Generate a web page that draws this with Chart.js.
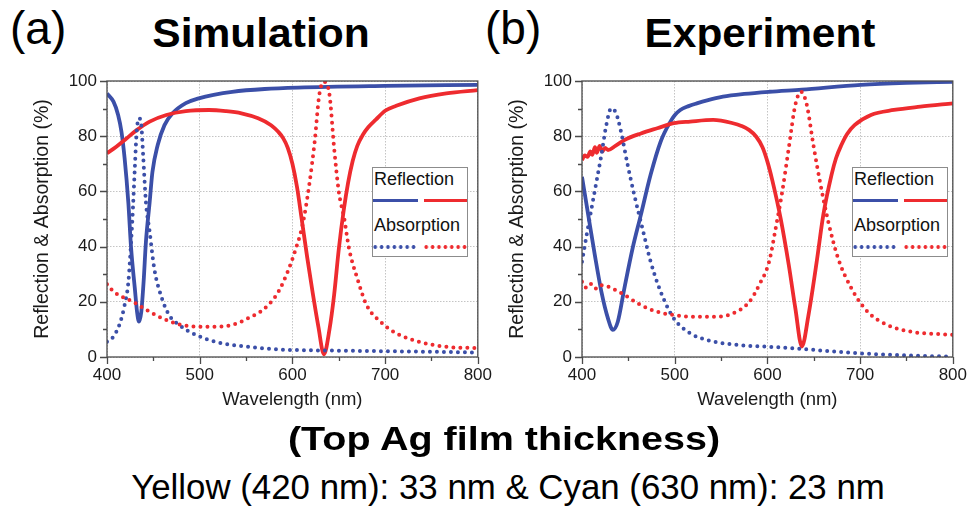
<!DOCTYPE html>
<html><head><meta charset="utf-8">
<script src="https://cdn.jsdelivr.net/npm/chart.js@4.4.1/dist/chart.umd.min.js"></script>
<style>
html,body{margin:0;padding:0;background:#fff;width:975px;height:507px;overflow:hidden;font-family:'Liberation Sans',Arial,sans-serif;color:#000}
body{position:relative}
.abs{position:absolute;white-space:nowrap;}
canvas{position:absolute;top:60px;}
.legend{position:absolute;top:167px;width:96px;height:90px;box-sizing:border-box;border:1px solid #8c8c8c;background:#fff;}
.legend .t{position:absolute;left:1px;font-size:18px;line-height:18px;color:#111;white-space:nowrap}
.legend .ln{position:absolute;height:3px;top:31px}
.legend .dt{position:absolute;height:4px;top:77px;background-size:6.4px 4px;background-repeat:repeat-x}
</style></head><body>
<div class="abs" style="left:10px;top:4.5px;font-size:46px;line-height:46px;">(a)</div>
<div class="abs" style="left:485px;top:4.5px;font-size:46px;line-height:46px;">(b)</div>
<div class="abs ctr" data-c="261" data-w="217" style="top:13px;font-size:40px;line-height:40px;font-weight:bold;">Simulation</div>
<div class="abs ctr" data-c="760" data-w="231" style="top:13px;font-size:40px;line-height:40px;font-weight:bold;">Experiment</div>
<canvas id="c1" width="500" height="360" style="left:0px"></canvas>
<canvas id="c2" width="500" height="360" style="left:475px"></canvas>
<div class="abs ctr" data-c="504" data-w="432" style="top:421px;font-size:34px;line-height:34px;font-weight:bold;">(Top Ag film thickness)</div>
<div class="abs ctr" data-c="508" data-w="754" style="top:470px;font-size:34.5px;line-height:34.5px;">Yellow (420 nm): 33 nm &amp; Cyan (630 nm): 23 nm</div>
<script>
// ---------- data ----------
const xTickValues = [400, 500, 600, 700, 800];
const yTickValues = [0, 20, 40, 60, 80, 100];
const xTickMarks = [400, 450, 500, 550, 600, 650, 700, 750, 800];
const yTickMarks = [0, 10, 20, 30, 40, 50, 60, 70, 80, 90, 100];
const legendLabels = ['Reflection', 'Absorption'];
const xTitle = 'Wavelength (nm)';
const yTitle = 'Reflection & Absorption (%)';

// Simulation
const simReflYellowWl  = [400, 407, 412, 415.6, 419, 423, 426, 430, 432.4, 434.5, 437, 439.5, 442, 446, 449, 454.7, 462, 470.7, 485, 499, 515, 535, 570, 606, 700, 800];
const simReflYellowVal = [95.5, 92.5, 87.7, 81.6, 72, 56, 39.4, 24.9, 16.4, 12.8, 16.4, 27.3, 41.8, 56, 67, 76.8, 84, 88.3, 92, 93.7, 95, 96.1, 97.1, 97.6, 98.2, 98.6];
const simReflCyanWl  = [400, 410, 421, 432, 446, 464, 485, 510, 528, 545, 563, 577, 585, 590, 595, 600, 605, 610, 616, 622, 628, 634, 640, 645, 650, 655.5, 660, 665, 670, 676, 682, 690, 700, 712, 737, 766, 800];
const simReflCyanVal = [73.8, 76.2, 79.2, 82.2, 85.3, 87.7, 89.1, 89.5, 89.1, 88.3, 86.5, 84, 81.5, 79.3, 75.8, 70, 61.5, 50, 36, 23, 11, 1, 10, 22.5, 39, 53.5, 63, 71, 76.5, 80.5, 83.3, 86, 89.2, 91, 93.7, 95.5, 96.7];
const simAbsYellowWl  = [400, 407, 414, 419, 423, 426, 428, 430, 432, 434.5, 437, 439, 442, 446, 451, 458, 467, 478, 496, 517, 552, 588, 650, 700, 750, 800];
const simAbsYellowVal = [5.5, 7.4, 12.3, 18.8, 27, 41.8, 54, 68.5, 81.6, 86.5, 84, 73, 56, 45.4, 32, 22.5, 15.2, 11.6, 8, 5.5, 3.7, 2.7, 2.3, 2.1, 1.9, 1.6];
const simAbsCyanWl  = [400, 407, 428, 446, 464, 481, 499, 517, 535, 552, 570, 585, 595, 602, 611, 618, 624, 629, 634, 640, 645, 650, 656, 661, 670, 680, 695, 712, 737, 766, 800];
const simAbsCyanVal = [26.4, 23.7, 20, 16.4, 13.4, 11.6, 11, 11, 11.6, 14, 17.6, 23.7, 31, 37.5, 48, 62, 78, 95, 99.7, 95, 75.7, 60, 50, 39.4, 28.5, 18.8, 12.8, 8.6, 5.5, 3.7, 3.2];

// Experiment
const expReflYellowWl  = [400, 406.7, 413.8, 420.9, 428, 433.3, 438.6, 445.7, 454.6, 463.5, 474, 484.8, 495.4, 500, 506, 515, 523.8, 535, 552, 575, 602, 637, 701, 750, 800];
const expReflYellowVal = [65.3, 51.5, 37, 23.7, 14, 9.8, 12.8, 24.9, 39.4, 51.5, 66, 78, 85.3, 87.6, 89.5, 90.9, 91.9, 93, 94.3, 95.3, 96.1, 96.9, 98.6, 99.3, 99.7];
const expReflCyanWl  = [400, 403, 406, 409, 411, 414, 416, 419, 422, 425, 428, 436, 445.7, 463.5, 481.2, 499, 516.7, 541.5, 562.8, 572, 580.5, 588, 594.7, 600, 605.3, 614.2, 623, 630.1, 637.2, 644.3, 653.2, 660.3, 669.1, 674, 679.8, 686, 694, 711.7, 736.5, 764.9, 800];
const expReflCyanVal = [71.4, 73, 72.5, 74.5, 73.2, 76, 74, 76.5, 74.5, 75.8, 75, 76.5, 78.6, 81, 82.9, 84.7, 85.3, 85.9, 84.7, 83.7, 82.2, 79.8, 76, 70.8, 64, 50.3, 33.4, 17.7, 3.8, 15.2, 34.6, 51.5, 65.9, 72, 76.8, 80.8, 84, 87.7, 89.5, 90.7, 91.9];
const expAbsYellowWl  = [400, 405, 410.3, 415.6, 420.9, 426.2, 431.5, 436.8, 442.1, 449.3, 456.4, 465.2, 474.1, 484.8, 499, 516.7, 534.4, 569.9, 601.8, 637.2, 701, 750, 800];
const expAbsYellowVal = [34.5, 44.2, 53.9, 63.5, 73.2, 84, 90.1, 88.3, 81.6, 69.5, 58.7, 46.6, 34.5, 23.7, 14, 8.6, 6.2, 4.3, 3.7, 2.9, 1.3, 0.6, 0.1];
const expAbsCyanWl  = [400, 405, 410, 415, 420, 428, 445.7, 463.5, 481.2, 499, 516.7, 541.5, 562.8, 580.5, 591.1, 601.8, 608.9, 616, 623, 630.1, 636.5, 642.5, 649.6, 656.7, 665.6, 676.2, 690.4, 708.1, 729.4, 754.2, 800];
const expAbsCyanVal = [27.3, 25, 26.5, 24.8, 26, 25.5, 22.5, 18.8, 16.4, 15.2, 14.6, 14.6, 15.8, 20, 26.1, 34.5, 46.6, 59.9, 75.6, 91.3, 96.1, 91.3, 76.8, 63.5, 49.1, 35.8, 25, 16.4, 11.6, 9.2, 8];

// ---------- styles ----------
const BLUE = '#3b4fa8';
const RED = '#ee2b2f';

Chart.defaults.font.family = "'Liberation Sans', Arial, sans-serif";
Chart.defaults.color = '#1a1a1a';

function pts(wl, val) { return wl.map((x, i) => ({x: x, y: val[i]})); }
function solid(label, wl, val, color) {
  return {label, data: pts(wl, val), borderColor: color, borderWidth: 3.8, pointRadius: 0,
          fill: false, cubicInterpolationMode: 'monotone', borderJoinStyle: 'round'};
}
function dotted(label, wl, val, color) {
  return {label, data: pts(wl, val), borderColor: color, borderWidth: 4, pointRadius: 0,
          fill: false, cubicInterpolationMode: 'monotone', borderDash: [0, 7], borderCapStyle: 'round'};
}

const framePlugin = {
  id: 'frame',
  afterDraw(chart) {
    const {ctx, chartArea: a, scales: {x, y}} = chart;
    ctx.save();
    ctx.strokeStyle = '#4a4a4a';
    ctx.lineWidth = 1.3;
    ctx.beginPath();
    xTickMarks.forEach(v => {
      const px = Math.round(x.getPixelForValue(v)) + 0.5;
      const len = xTickValues.includes(v) ? 7 : 4;
      ctx.moveTo(px, a.bottom); ctx.lineTo(px, a.bottom + len);
    });
    yTickMarks.forEach(v => {
      const py = Math.round(y.getPixelForValue(v)) + 0.5;
      const len = yTickValues.includes(v) ? 7 : 4;
      ctx.moveTo(a.left, py); ctx.lineTo(a.left - len, py);
    });
    ctx.stroke();
    ctx.strokeRect(a.left, a.top, a.right - a.left, a.bottom - a.top);
    ctx.restore();
  }
};

function makeChart(id, datasets, padRight) {
  return new Chart(document.getElementById(id), {
    type: 'line',
    data: {datasets},
    plugins: [framePlugin],
    options: {
      responsive: false, animation: false, devicePixelRatio: 1,
      layout: {padding: {top: 21, right: padRight, left: 0, bottom: 0}},
      plugins: {legend: {display: false}, tooltip: {enabled: false}},
      scales: {
        x: {
          type: 'linear', min: 400, max: 800,
          afterBuildTicks: s => { s.ticks = xTickValues.map(v => ({value: v})); },
          afterFit: s => { s.height = 63; },
          grid: {color: '#c4c4c4', lineWidth: 1, drawTicks: false},
          border: {display: false, dash: [1.5, 1.5]},
          ticks: {font: {size: 17}, padding: 8, maxRotation: 0, color: '#1a1a1a'},
          title: {display: true, text: xTitle, font: {size: 18.5}, color: '#1a1a1a', padding: {top: 0, bottom: 8.5}}
        },
        y: {
          type: 'linear', min: 0, max: 100,
          afterBuildTicks: s => { s.ticks = yTickValues.map(v => ({value: v})); },
          afterFit: s => { s.width = 107; },
          grid: {color: '#c4c4c4', lineWidth: 1, drawTicks: false},
          border: {display: false, dash: [1.5, 1.5]},
          ticks: {font: {size: 17}, padding: 10, color: '#1a1a1a'},
          title: {display: true, text: yTitle, font: {size: 19.5}, color: '#1a1a1a', padding: {top: 31, bottom: 0}}
        }
      }
    }
  });
}

makeChart('c1', [
  dotted('Absorption (cyan)', simAbsCyanWl, simAbsCyanVal, RED),
  dotted('Absorption (yellow)', simAbsYellowWl, simAbsYellowVal, BLUE),
  solid('Reflection (cyan)', simReflCyanWl, simReflCyanVal, RED),
  solid('Reflection (yellow)', simReflYellowWl, simReflYellowVal, BLUE)
], 18);
makeChart('c2', [
  dotted('Absorption (cyan)', expAbsCyanWl, expAbsCyanVal, RED),
  dotted('Absorption (yellow)', expAbsYellowWl, expAbsYellowVal, BLUE),
  solid('Reflection (cyan)', expReflCyanWl, expReflCyanVal, RED),
  solid('Reflection (yellow)', expReflYellowWl, expReflYellowVal, BLUE)
], 17);

// ---------- legends ----------
function dotBg(c) { return `radial-gradient(circle at 3.2px 2px, ${c} 1.6px, rgba(255,255,255,0) 2.1px)`; }
function makeLegend(left) {
  const L = document.createElement('div');
  L.className = 'legend';
  L.style.left = left + 'px';
  L.innerHTML =
    `<div class="t" style="top:1.8px">${legendLabels[0]}</div>` +
    `<div class="ln" style="left:0;width:45px;background:${BLUE}"></div>` +
    `<div class="ln" style="left:51px;width:43px;background:${RED}"></div>` +
    `<div class="t" style="top:48.3px">${legendLabels[1]}</div>` +
    `<div class="dt" style="left:-1px;width:44.8px;background-image:${dotBg(BLUE)}"></div>` +
    `<div class="dt" style="left:49.5px;width:44.8px;background-image:${dotBg(RED)}"></div>`;
  document.body.appendChild(L);
}
makeLegend(372);
makeLegend(852);

// ---------- centred, width-matched text ----------
document.querySelectorAll('.ctr').forEach(el => {
  const w = el.offsetWidth;
  el.style.left = el.dataset.c + 'px';
  el.style.transform = `translateX(-50%) scaleX(${(+el.dataset.w / w).toFixed(4)})`;
});
</script>
</body></html>
